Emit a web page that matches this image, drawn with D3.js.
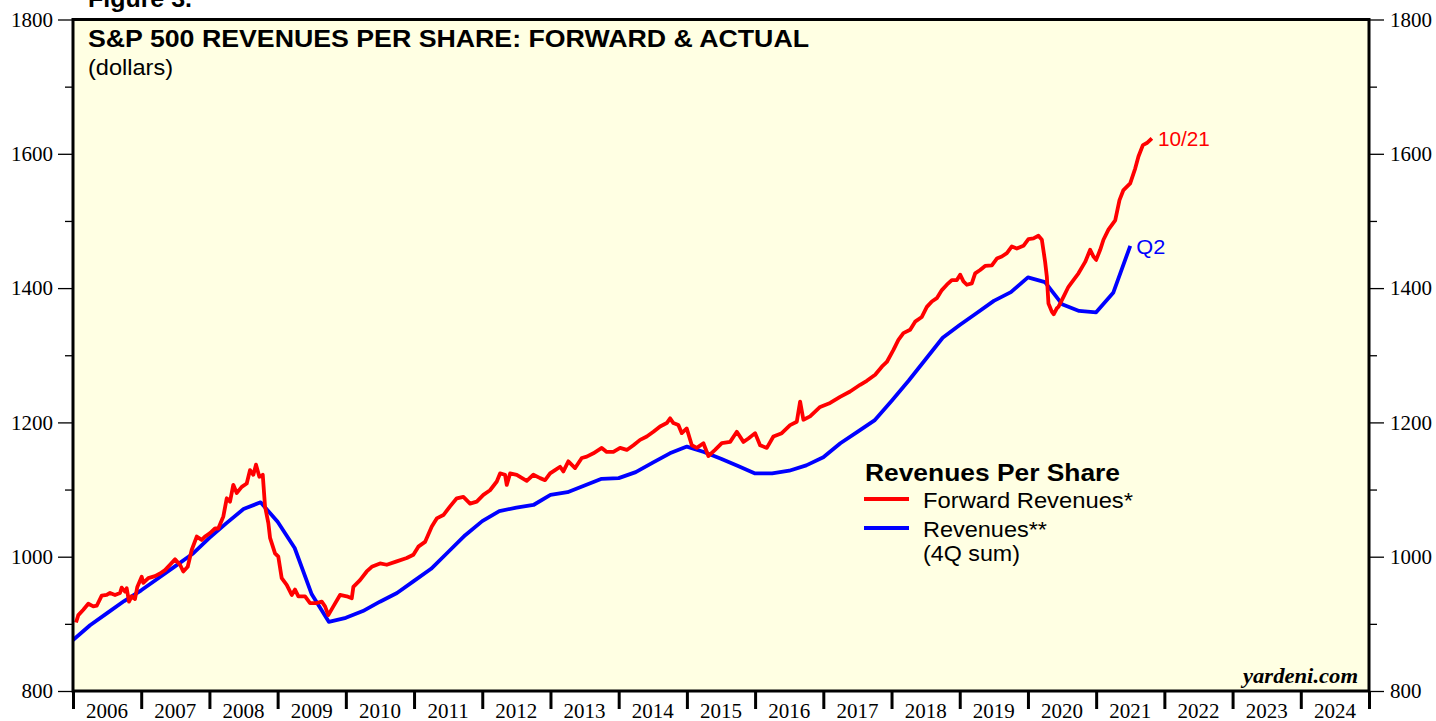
<!DOCTYPE html>
<html>
<head>
<meta charset="utf-8">
<script src="https://cdn.jsdelivr.net/npm/d3@7"></script>
<style>
  html, body { margin: 0; padding: 0; background: #ffffff; }
  svg { display: block; }
</style>
</head>
<body>
<svg id="chart" width="1436" height="721"></svg>
<script>
// ---------- DATA ----------
const yearLabels = ["2006","2007","2008","2009","2010","2011","2012","2013","2014","2015","2016","2017","2018","2019","2020","2021","2022","2023","2024"];
const yTicksMajor = [800, 1000, 1200, 1400, 1600, 1800];
const yTicksMinor = [900, 1100, 1300, 1500, 1700];

// Revenues (4Q sum), quarterly, plotted at quarter end (decimal year)
const actualDates = [2006.0,2006.25,2006.5,2006.75,2007.0,2007.25,2007.5,2007.75,2008.0,2008.25,2008.5,2008.75,
  2009.0,2009.25,2009.5,2009.75,2010.0,2010.25,2010.5,2010.75,2011.0,2011.25,2011.5,2011.75,
  2012.0,2012.25,2012.5,2012.75,2013.0,2013.25,2013.5,2013.75,2014.0,2014.25,2014.5,2014.75,
  2015.0,2015.25,2015.5,2015.75,2016.0,2016.25,2016.5,2016.75,2017.0,2017.25,2017.5,2017.75,
  2018.0,2018.25,2018.5,2018.75,2019.0,2019.25,2019.5,2019.75,2020.0,2020.25,2020.5,2020.75,
  2021.0,2021.25,2021.5];
const actualValues = [876,898,916,934,950,968,986,1004,1028,1050,1071,1081,
  1052,1013,944,903,909,919,933,946,964,982,1007,1032,
  1053,1068,1073,1077,1092,1096,1106,1116,1117,1126,1140,1154,
  1164,1156,1146,1135,1124,1124,1128,1136,1148,1169,1186,1203,
  1232,1262,1294,1326,1345,1363,1381,1394,1416,1409,1376,1366,
  1364,1393,1463];

// Forward revenues (weekly series, read at roughly monthly resolution)
const forwardDates = [2006.044,2006.078,2006.151,2006.224,2006.298,2006.348,2006.421,2006.494,2006.543,2006.616,
  2006.689,2006.714,2006.762,2006.787,2006.821,2006.861,2006.909,2006.943,2007.007,2007.031,
  2007.104,2007.202,2007.276,2007.349,2007.422,2007.496,2007.569,2007.617,2007.682,2007.740,
  2007.814,2007.887,2007.935,2008.009,2008.082,2008.130,2008.204,2008.254,2008.302,2008.350,
  2008.400,2008.474,2008.547,2008.595,2008.644,2008.683,2008.732,2008.782,2008.815,2008.864,
  2008.889,2008.962,2009.010,2009.060,2009.133,2009.207,2009.255,2009.304,2009.402,2009.475,
  2009.573,2009.647,2009.695,2009.743,2009.817,2009.915,2010.013,2010.087,2010.110,2010.208,
  2010.306,2010.380,2010.501,2010.600,2010.746,2010.893,2010.990,2011.063,2011.161,2011.260,
  2011.333,2011.430,2011.528,2011.626,2011.723,2011.821,2011.919,2012.016,2012.114,2012.213,
  2012.261,2012.334,2012.359,2012.408,2012.506,2012.554,2012.652,2012.749,2012.848,2012.921,
  2012.994,2013.067,2013.141,2013.189,2013.262,2013.361,2013.459,2013.532,2013.629,2013.752,
  2013.825,2013.922,2014.021,2014.119,2014.216,2014.314,2014.412,2014.509,2014.607,2014.705,
  2014.754,2014.802,2014.875,2014.925,2014.998,2015.072,2015.145,2015.242,2015.315,2015.413,
  2015.512,2015.634,2015.732,2015.829,2015.902,2016.000,2016.073,2016.172,2016.268,2016.391,
  2016.513,2016.611,2016.660,2016.708,2016.806,2016.953,2017.100,2017.246,2017.393,2017.540,
  2017.638,2017.760,2017.858,2017.931,2018.028,2018.101,2018.174,2018.273,2018.346,2018.444,
  2018.518,2018.591,2018.664,2018.738,2018.811,2018.884,2018.958,2019.006,2019.054,2019.104,
  2019.177,2019.226,2019.299,2019.372,2019.471,2019.544,2019.617,2019.691,2019.764,2019.837,
  2019.934,2020.007,2020.081,2020.154,2020.204,2020.252,2020.277,2020.301,2020.350,2020.377,
  2020.424,2020.447,2020.521,2020.594,2020.667,2020.741,2020.839,2020.912,2020.961,2021.000,
  2021.059,2021.107,2021.180,2021.279,2021.342,2021.400,2021.499,2021.572,2021.620,2021.685,
  2021.743,2021.817];
const forwardValues = [902,913,921,930,926,927,942,943,946,943,
  946,954,948,953,933,941,937,955,970,961,
  968,971,975,980,988,996,988,978,985,1010,
  1030,1025,1030,1035,1042,1042,1060,1087,1082,1107,
  1095,1104,1109,1129,1122,1137,1119,1122,1075,1050,
  1028,1005,1000,968,958,943,951,941,941,931,
  931,933,926,913,926,943,941,938,955,965,
  978,985,990,988,993,998,1003,1015,1022,1045,
  1057,1062,1075,1087,1089,1079,1082,1092,1099,1112,
  1124,1122,1107,1124,1122,1119,1113,1122,1117,1114,
  1124,1129,1134,1127,1142,1132,1147,1149,1154,1162,
  1156,1156,1162,1159,1166,1174,1179,1186,1194,1199,
  1206,1199,1196,1184,1191,1166,1162,1169,1150,1159,
  1169,1171,1186,1171,1176,1184,1166,1162,1179,1184,
  1196,1201,1231,1204,1209,1223,1229,1238,1246,1256,
  1262,1271,1283,1290,1308,1323,1333,1338,1350,1357,
  1372,1380,1385,1397,1405,1412,1412,1420,1410,1405,
  1407,1422,1427,1433,1434,1444,1447,1452,1462,1459,
  1463,1473,1474,1478,1472,1439,1417,1377,1365,1361,
  1370,1372,1387,1402,1412,1422,1439,1457,1447,1442,
  1457,1472,1487,1501,1531,1546,1556,1578,1596,1613,
  1616,1623];

const forwardLabel = "10/21";
const actualLabel = "Q2";

// ---------- LAYOUT ----------
const svg = d3.select("#chart");
const pL = 73, pR = 1369, pT = 19.5, pB = 691;
const bgColor = "#FFFFE3";
const serif = "'Liberation Serif','Times New Roman',serif";
const sans = "'Liberation Sans',Arial,Helvetica,sans-serif";

const x = d3.scaleLinear().domain([2006, 2025]).range([pL, pR]);
const y = d3.scaleLinear().domain([800, 1800]).range([pB, pT]);

function label(g, px, py, txt, size, opts = {}) {
  const t = g.append("text").attr("x", px).attr("y", py).attr("font-family", opts.family || sans)
    .attr("font-size", size).attr("fill", opts.fill || "#000").text(txt);
  if (opts.bold) t.attr("font-weight", "bold");
  if (opts.italic) t.attr("font-style", "italic");
  if (opts.anchor) t.attr("text-anchor", opts.anchor);
  if (opts.len) t.attr("textLength", opts.len).attr("lengthAdjust", "spacingAndGlyphs");
  return t;
}

// plot background
svg.append("rect").attr("x", pL).attr("y", pT).attr("width", pR - pL).attr("height", pB - pT)
  .attr("fill", bgColor);

// "Figure 3." (cut off at top)
label(svg, 88, 7, "Figure 3.", 24, { bold: true, len: 104 });

// Left axis
const gL = svg.append("g").attr("transform", `translate(${pL},0)`)
  .call(d3.axisLeft(y).tickValues(yTicksMajor).tickSize(15).tickPadding(5).tickFormat(d3.format("d")));
gL.select(".domain").remove();
gL.selectAll("line").attr("stroke", "#000").attr("stroke-width", 1.3);
gL.selectAll("text").attr("font-family", serif).attr("font-size", 21).attr("fill", "#000");
const gLm = svg.append("g").attr("transform", `translate(${pL},0)`)
  .call(d3.axisLeft(y).tickValues(yTicksMinor).tickSize(8).tickFormat(""));
gLm.select(".domain").remove();
gLm.selectAll("line").attr("stroke", "#000").attr("stroke-width", 1.3);

// Right axis
const gR = svg.append("g").attr("transform", `translate(${pR},0)`)
  .call(d3.axisRight(y).tickValues(yTicksMajor).tickSize(15).tickPadding(6).tickFormat(d3.format("d")));
gR.select(".domain").remove();
gR.selectAll("line").attr("stroke", "#000").attr("stroke-width", 1.3);
gR.selectAll("text").attr("font-family", serif).attr("font-size", 21).attr("fill", "#000");
const gRm = svg.append("g").attr("transform", `translate(${pR},0)`)
  .call(d3.axisRight(y).tickValues(yTicksMinor).tickSize(8).tickFormat(""));
gRm.select(".domain").remove();
gRm.selectAll("line").attr("stroke", "#000").attr("stroke-width", 1.3);

// Bottom axis: year-boundary ticks, labels centred in each year
const yearBounds = d3.range(2006, 2026);
const gB = svg.append("g").attr("transform", `translate(0,${pB})`)
  .call(d3.axisBottom(x).tickValues(yearBounds).tickSize(18).tickFormat(""));
gB.select(".domain").remove();
gB.selectAll("line").attr("stroke", "#000").attr("stroke-width", 3);
svg.append("g").selectAll("text").data(yearLabels).join("text")
  .attr("x", d => x(+d + 0.5)).attr("y", 718).attr("text-anchor", "middle")
  .attr("font-family", serif).attr("font-size", 21).attr("fill", "#000").text(d => d);

// Lines
svg.append("clipPath").attr("id", "clip").append("rect")
  .attr("x", pL).attr("y", pT).attr("width", pR - pL).attr("height", pB - pT);

const actualData = actualDates.map((d, i) => [d, actualValues[i]]);
const forwardData = forwardDates.map((d, i) => [d, forwardValues[i]]);
const line = d3.line().x(d => x(d[0])).y(d => y(d[1]));

svg.append("path").datum(actualData).attr("d", line).attr("fill", "none")
  .attr("stroke", "#0000FF").attr("stroke-width", 3.8).attr("stroke-linejoin", "round")
  .attr("clip-path", "url(#clip)");
svg.append("path").datum(forwardData).attr("d", line).attr("fill", "none")
  .attr("stroke", "#FF0000").attr("stroke-width", 3.8).attr("stroke-linejoin", "round")
  .attr("clip-path", "url(#clip)");

// End labels
const fLast = forwardData[forwardData.length - 1];
const aLast = actualData[actualData.length - 1];
label(svg, x(fLast[0]) + 6, y(fLast[1]) + 8, forwardLabel, 21, { fill: "#FF0000", len: 52 });
label(svg, x(aLast[0]) + 6, y(aLast[1]) + 8, actualLabel, 21, { fill: "#0000FF", len: 29 });

// Frame
svg.append("rect").attr("x", pL).attr("y", pT).attr("width", pR - pL).attr("height", pB - pT)
  .attr("fill", "none").attr("stroke", "#000").attr("stroke-width", 3);

// Title
label(svg, 88, 47, "S&P 500 REVENUES PER SHARE: FORWARD & ACTUAL", 24.5, { bold: true, len: 721 });
label(svg, 88, 75, "(dollars)", 22, { len: 85 });

// Legend
const lg = svg.append("g");
label(lg, 865, 481, "Revenues Per Share", 24, { bold: true, len: 255 });
lg.append("line").attr("x1", 864).attr("x2", 909).attr("y1", 499).attr("y2", 499)
  .attr("stroke", "#FF0000").attr("stroke-width", 3.8);
label(lg, 923, 508, "Forward Revenues*", 22, { len: 210 });
lg.append("line").attr("x1", 864).attr("x2", 909).attr("y1", 528).attr("y2", 528)
  .attr("stroke", "#0000FF").attr("stroke-width", 3.8);
label(lg, 923, 537, "Revenues**", 22, { len: 124 });
label(lg, 923, 561, "(4Q sum)", 22, { len: 97 });

// Source
label(svg, 1358, 683, "yardeni.com", 22, { family: serif, bold: true, italic: true, anchor: "end", len: 115 });
</script>
</body>
</html>
